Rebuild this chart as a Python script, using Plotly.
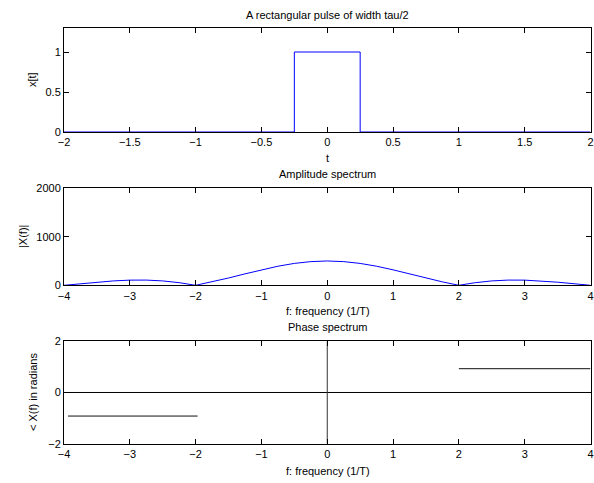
import plotly.graph_objects as go

# ---- data ----
pulse_t = [-2, -0.25, -0.25, 0.25, 0.25, 2]
pulse_x = [0, 0, 1, 1, 0, 0]

amp_f = [-4, -3.75, -3.5, -3.25, -3, -2.75, -2.5, -2.25, -2, -1.75, -1.5, -1.25, -1, -0.75, -0.5, -0.25,
         0, 0.25, 0.5, 0.75, 1, 1.25, 1.5, 1.75, 2, 2.25, 2.5, 2.75, 3, 3.25, 3.5, 3.75, 4]
amp_X = [0, 32, 64, 90, 106, 107, 90, 54, 0, 70, 150, 235, 318, 392, 450, 487,
         500, 487, 450, 392, 318, 235, 150, 70, 0, 54, 90, 107, 106, 90, 64, 32, 0]

phase_f = [-3.94, -1.97, None, 2.0, 4.0]
phase_X = [-0.92, -0.92, None, 0.93, 0.93]
zero_f = [-4, 4]
zero_X = [0, 0]
vert_f = [0, 0]
vert_X = [-2, 2]

W, H = 594, 483
FONT = "Liberation Sans, Arial, Helvetica, sans-serif"

def px(x):
    return x / W

def py(y):
    return 1 - y / H

fig = go.Figure()
fig.add_trace(go.Scatter(x=pulse_t, y=pulse_x, mode="lines", line=dict(color="#0000ff", width=1),
                         xaxis="x", yaxis="y", showlegend=False))
fig.add_trace(go.Scatter(x=amp_f, y=amp_X, mode="lines", line=dict(color="#0000ff", width=1),
                         xaxis="x2", yaxis="y2", showlegend=False))
fig.add_trace(go.Scatter(x=zero_f, y=zero_X, mode="lines", line=dict(color="black", width=1),
                         xaxis="x3", yaxis="y3", showlegend=False))
fig.add_trace(go.Scatter(x=vert_f, y=vert_X, mode="lines", line=dict(color="#333333", width=1),
                         xaxis="x3", yaxis="y3", showlegend=False))
fig.add_trace(go.Scatter(x=phase_f, y=phase_X, mode="lines", line=dict(color="#111111", width=1),
                         xaxis="x3", yaxis="y3", showlegend=False, connectgaps=False))

xdom = [px(64), px(590.5)]
axcommon = dict(showline=True, linecolor="black", linewidth=1, mirror="ticks", ticks="inside",
                ticklen=5, tickcolor="black", showgrid=False, zeroline=False, automargin=False,
                ticklabeloverflow="allow",
                tickfont=dict(family=FONT, size=11, color="black"))

layout = dict(
    width=W, height=H, margin=dict(l=0, r=0, t=0, b=0, autoexpand=False),
    paper_bgcolor="white", plot_bgcolor="white",
    xaxis=dict(domain=xdom, range=[-2, 2], tickvals=[-2, -1.5, -1, -0.5, 0, 0.5, 1, 1.5, 2],
               anchor="y", **axcommon),
    yaxis=dict(domain=[py(132), py(28)], range=[0, 1.3], tickvals=[0, 0.5, 1], anchor="x", **axcommon),
    xaxis2=dict(domain=xdom, range=[-4, 4], tickvals=[-4, -3, -2, -1, 0, 1, 2, 3, 4], anchor="y2", **axcommon),
    yaxis2=dict(domain=[py(285.3), py(188)], range=[0, 2000], tickvals=[0, 1000, 2000], anchor="x2", **axcommon),
    xaxis3=dict(domain=xdom, range=[-4, 4], tickvals=[-4, -3, -2, -1, 0, 1, 2, 3, 4], anchor="y3", **axcommon),
    yaxis3=dict(domain=[py(443.7), py(341.3)], range=[-2, 2], tickvals=[-2, 0, 2], anchor="x3", **axcommon),
)
fig.update_layout(**layout)

cx = (64 + 591) / 2
def ann(text, x, y, angle=0):
    fig.add_annotation(text=text, x=px(x), y=py(y), xref="paper", yref="paper", showarrow=False,
                       xanchor="center", yanchor="middle", textangle=angle,
                       font=dict(family=FONT, size=11, color="black"))

ann("A rectangular pulse of width tau/2", cx, 15)
ann("t", cx, 158)
ann("Amplitude spectrum", cx, 174)
ann("f: frequency (1/T)", cx, 311)
ann("Phase spectrum", cx, 327)
ann("f: frequency (1/T)", cx, 471)
ann("x[t]", 32, 80, -90)
ann("|X(f)|", 23, 237, -90)
ann("< X(f) in radians", 33, 392, -90)

fig.write_html("out.html", config={"displayModeBar": False},
               post_script="document.body.style.margin='0';document.body.style.overflow='hidden';")
